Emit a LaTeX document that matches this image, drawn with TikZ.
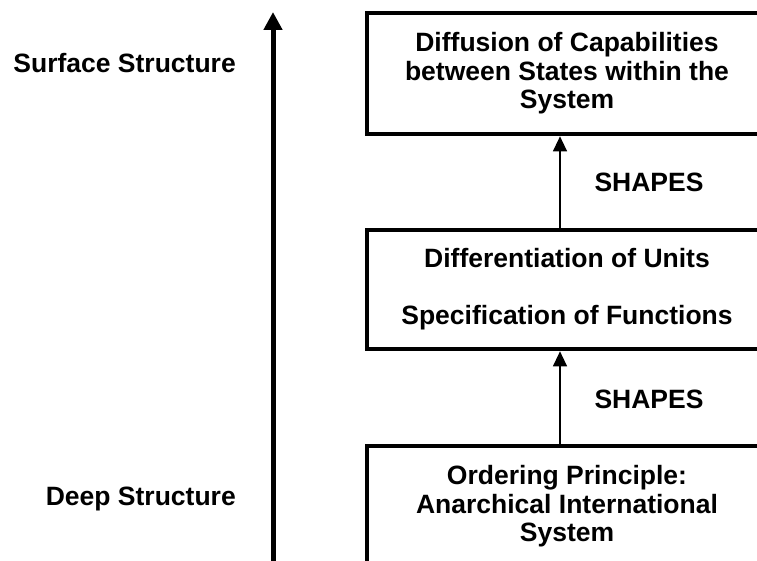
\documentclass[tikz,border=0pt]{standalone}
\usepackage{fontspec}
\setmainfont{Liberation Sans}
\usetikzlibrary{arrows.meta}
\begin{document}
\begin{tikzpicture}[x=1pt,y=-1pt,
  every node/.style={font=\bfseries\fontsize{26.5}{28.5}\selectfont, align=center, inner sep=0pt},
  levelbox/.style={draw, line width=4.7pt, minimum width=400pt},
  shapesarrow/.style={line width=1.3pt, -{Triangle[width=14pt,length=15pt]}},
  axisarrow/.style={line width=5pt, -{Triangle[width=18pt,length=18pt]}}]
\useasboundingbox (0,0) rectangle (757,561);
\clip (0,0) rectangle (757,561);

% vertical axis from deep to surface structure
\coordinate (axisbottom) at (273,585);
\coordinate (axistop) at (273,12);
\draw[axisarrow] (axisbottom) -- (axistop);
\node[anchor=base east] (surface) at (236,73) {Surface Structure};
\node[anchor=base east] (deep) at (236,505) {Deep Structure};

% the three levels
\node[levelbox, minimum height=121pt] (diffusion) at (567,73.5)
  {Diffusion of Capabilities\\between States within the\\System};
\node[levelbox, minimum height=119pt] (differentiation) at (567,289.5)
  {Differentiation of Units\\[28.5pt]Specification of Functions};
\node[levelbox, minimum height=174pt] (ordering) at (567,533) {};
\node (orderingtext) at (567,506.5)
  {Ordering Principle:\\Anarchical International\\System};

% "shapes" connectors
\coordinate (sx) at (560,0);
\draw[shapesarrow] (differentiation.north -| sx) -- (diffusion.south -| sx);
\draw[shapesarrow] (ordering.north -| sx) -- (differentiation.south -| sx);
\node[anchor=base] (shapesupper) at (649,192) {SHAPES};
\node[anchor=base] (shapeslower) at (649,408) {SHAPES};
\end{tikzpicture}
\end{document}
